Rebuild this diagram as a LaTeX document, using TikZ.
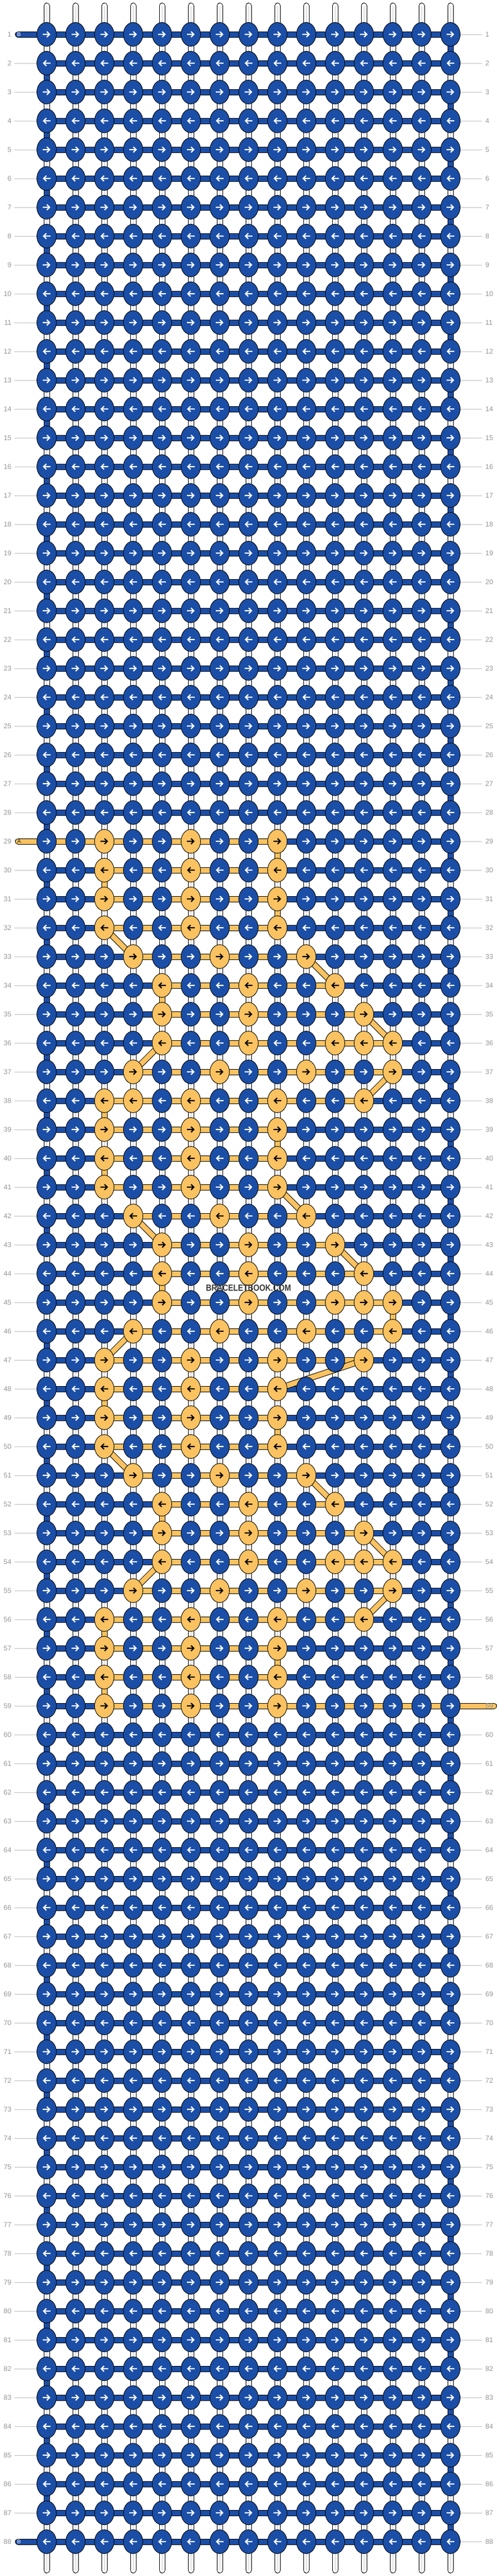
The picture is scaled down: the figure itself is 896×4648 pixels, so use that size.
\documentclass[tikz,border=0pt]{standalone}
\usepackage{fontspec}
\setmainfont{Liberation Sans}
\usetikzlibrary{shapes.geometric}
\definecolor{kblue}{RGB}{27,78,166}
\definecolor{kyel}{RGB}{250,194,96}
\definecolor{lblgray}{RGB}{150,150,150}
\definecolor{linegray}{RGB}{190,190,190}
\definecolor{tubegray}{RGB}{200,200,200}
\newcommand\setyk[2]{\expandafter\gdef\csname yk\number#1\endcsname{#2}}
\setyk{29}{3,6,9}\setyk{30}{3,6,9}\setyk{31}{3,6,9}\setyk{32}{3,6,9}
\setyk{33}{4,7,10}\setyk{34}{5,8,11}\setyk{35}{5,8,12}\setyk{36}{5,8,11,12,13}
\setyk{37}{4,7,10,13}\setyk{38}{3,4,6,9,12}\setyk{39}{3,6,9}\setyk{40}{3,6,9}
\setyk{41}{3,6,9}\setyk{42}{4,7,10}\setyk{43}{5,8,11}\setyk{44}{5,8,12}
\setyk{45}{5,8,11,12,13}\setyk{46}{4,7,10,13}\setyk{47}{3,6,9,12}\setyk{48}{3,6,9}
\setyk{49}{3,6,9}\setyk{50}{3,6,9}\setyk{51}{4,7,10}\setyk{52}{5,8,11}
\setyk{53}{5,8,12}\setyk{54}{5,8,11,12,13}\setyk{55}{4,7,10,13}\setyk{56}{3,6,9,12}
\setyk{57}{3,6,9}\setyk{58}{3,6,9}\setyk{59}{3,6,9}
\newif\ifisyel
\begin{document}
\begin{tikzpicture}[x=1pt,y=-1pt,
  knot/.style={ellipse, draw=black, line width=0.9pt, minimum width=35pt, minimum height=43pt, inner sep=0pt},
  tube/.style={draw=black, line width=1pt, double=white, double distance=9pt},
  tubeline/.style={draw=tubegray, line width=1pt},
  bar/.style={draw=black, line width=1pt, double distance=9pt},
  lbl/.style={text=lblgray, font=\fontsize{12.5}{12.5}\selectfont, inner sep=0pt},
  taillbl/.style={font=\fontsize{10}{10}\selectfont, inner sep=0pt},
  gline/.style={draw=linegray, line width=1pt},
  arr/.style={line width=2.2pt, line join=miter, line cap=butt}
]
\fill[white] (0,0) rectangle (896,4648);
\useasboundingbox (0,0) rectangle (896,4648);
% grid coordinates
\foreach \r in {1,...,88}{
  \foreach \c in {1,...,15}{
    \coordinate (p-\r-\c) at ({32+52*\c},{10+52*\r});
  }
}
\foreach \c in {1,...,15}{
  \coordinate (t-\c) at ({32+52*\c},10.5);
  \coordinate (b-\c) at ({32+52*\c},4637.5);
}
% guide lines
\foreach \r in {1,...,88}{
  \coordinate (ls-\r) at (26,{10+52*\r});
  \coordinate (rs-\r) at (869,{10+52*\r});
}
\foreach \r in {2,...,28,30,31,...,87}{\draw[gline] (ls-\r) -- (p-\r-1);}
\foreach \r in {1,...,58,60,61,...,88}{\draw[gline] (p-\r-15) -- (rs-\r);}
% top and bottom string ends
\foreach \c in {1,...,15}{
  \draw[tube, line cap=round] (t-\c) -- (p-1-\c);
  \draw[tubeline] (t-\c) -- (p-1-\c);
  \draw[tube, line cap=round] (p-88-\c) -- (b-\c);
  \draw[tubeline] (p-88-\c) -- (b-\c);
}
% vertical strings
\foreach \r in {1,...,87}{
  \pgfmathtruncatemacro\rn{\r+1}
  \foreach \c in {1,...,15}{
    \draw[tube] (p-\r-\c) -- (p-\rn-\c);
    \draw[tubeline] (p-\r-\c) -- (p-\rn-\c);
  }
  \ifodd\r\relax
    \draw[tube, double=kblue] (p-\r-15) -- (p-\rn-15);
  \else
    \draw[tube, double=kblue] (p-\r-1) -- (p-\rn-1);
  \fi
}
\foreach \r/\c in {29/9,30/3,31/9,34/5,38/3,39/9,40/3,44/5,45/13,48/3,49/9,52/5,56/3,57/9,58/3}{
  \pgfmathtruncatemacro\rn{\r+1}
  \draw[tube, double=kyel] (p-\r-\c) -- (p-\rn-\c);
}
% horizontal threads
\foreach \r in {1,...,88}{\draw[bar, double=kblue] (p-\r-1) -- (p-\r-15);}
\foreach \r/\a/\b in {30/3/9,31/3/9,32/3/9,33/4/10,34/5/11,35/5/12,36/5/13,37/4/13,38/3/12,39/3/9,40/3/9,41/3/9,42/4/10,43/5/11,44/5/12,45/5/13,46/4/13,47/3/12,48/3/9,49/3/9,50/3/9,51/4/10,52/5/11,53/5/12,54/5/13,55/4/13,56/3/12,57/3/9,58/3/9}{
  \draw[bar, double=kyel] (p-\r-\a) -- (p-\r-\b);
}
% tails
\coordinate (tail1) at (32.5,62);
\coordinate (tail29) at (32.5,1518);
\coordinate (tail88) at (32.5,4586);
\coordinate (tail59) at (890.5,3078);
\draw[bar, double=kblue, line cap=round] (tail1) -- (p-1-1);
\draw[bar, double=kyel, line cap=round] (tail29) -- (p-29-9);
\draw[bar, double=kblue, line cap=round] (tail88) -- (p-88-1);
\draw[bar, double=kyel, line cap=round] (p-59-3) -- (tail59);
\node[taillbl, text=white] (tb1) at (34.2,62) {B};
\node[taillbl, text=black!85] (ta29) at (34.5,1518) {A};
\node[taillbl, text=white] (tb88) at (34.2,4586) {B};
% row labels
\foreach \r in {1,...,88}{
  \node[lbl,anchor=east] (ll-\r) at (20.7,{10+52*\r}) {\r};
  \node[lbl,anchor=west] (lr-\r) at (875,{10+52*\r}) {\r};
}
% diagonal yellow passes
\foreach \r/\a/\b in {32/3/4,33/10/11,35/12/13,36/5/4,37/13/12,41/9/10,42/4/5,43/11/12,46/4/3,47/12/9,50/3/4,51/10/11,53/12/13,54/5/4,55/13/12}{
  \pgfmathtruncatemacro\rn{\r+1}
  \draw[bar, double=kyel] (p-\r-\a) -- (p-\rn-\b);
}
% knots
\foreach \r in {1,...,88}{
  \ifodd\r\relax\def\dir{1}\else\def\dir{-1}\fi
  \foreach \c in {1,...,15}{
    \global\isyelfalse
    \ifcsname yk\r\endcsname
      \edef\tmplist{\csname yk\r\endcsname}
      \foreach \k in \tmplist {\ifnum\k=\c\relax\global\isyeltrue\fi}
    \fi
    \ifisyel\def\kfill{kyel}\def\acol{black}\else\def\kfill{kblue}\def\acol{white}\fi
    \node[knot, fill=\kfill] (k-\r-\c) at (p-\r-\c) {};
    \begin{scope}[shift={(p-\r-\c)}, xscale=\dir]
      \draw[arr, draw=\acol] (-7,0) -- (5.3,0) (0.4,-5) -- (5.3,0) -- (0.4,5);
    \end{scope}
  }
}
% watermark
\node[font=\bfseries\fontsize{16.3}{16.3}\selectfont, text=black!78, inner sep=0pt] (wm) at (448,2323.5) {\scalebox{0.85}[1]{BRACELETBOOK.COM}};
\end{tikzpicture}
\end{document}
